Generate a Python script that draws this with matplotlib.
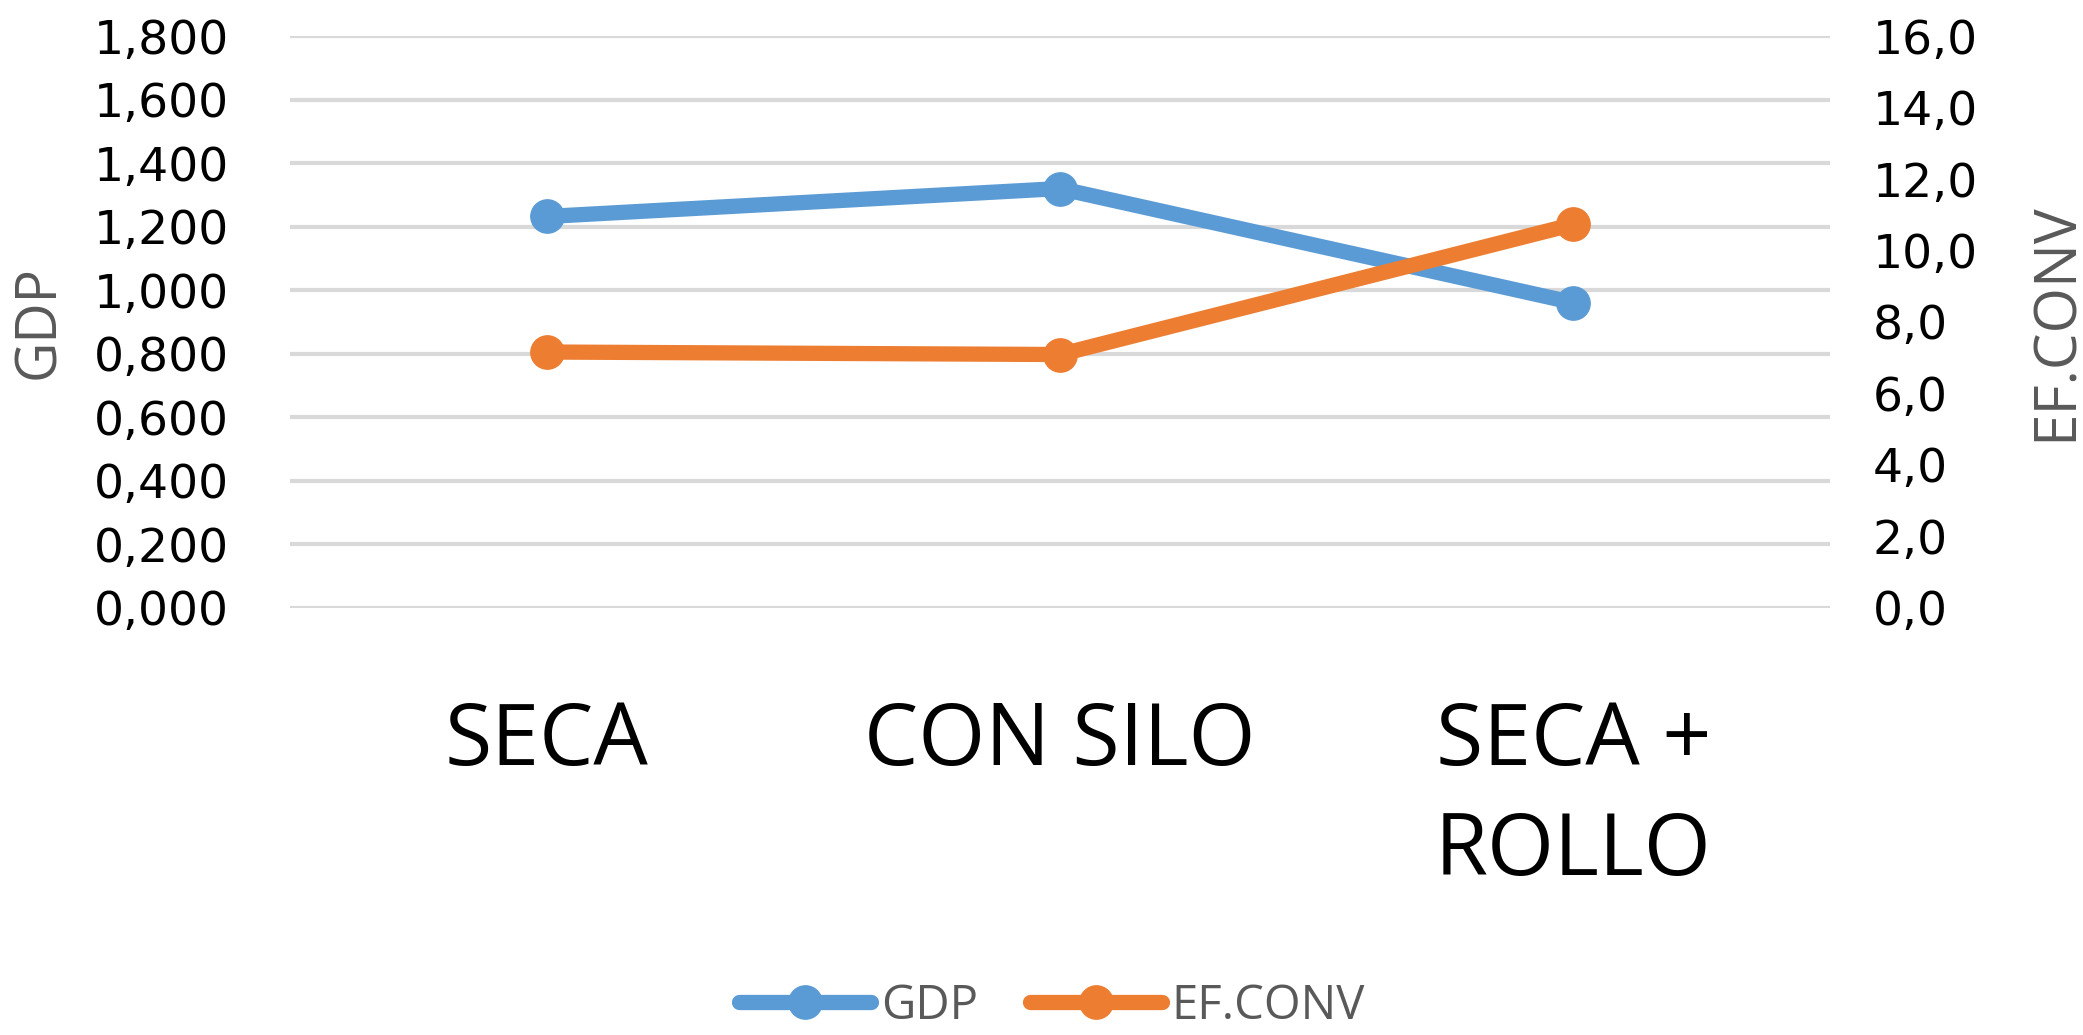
"""Line chart, two y axes: GDP (left) and EF.CONV (right) per feeding treatment."""
import matplotlib
matplotlib.use("Agg")
import matplotlib.pyplot as plt
from matplotlib.ticker import FuncFormatter, MultipleLocator

categories = ["SECA", "CON SILO", "SECA +\nROLLO"]
gdp = [1.232, 1.320, 0.961]
ef_conv = [7.16, 7.09, 10.73]

blue, orange, grid, grey = "#5B9BD5", "#ED7D31", "#D9D9D9", "#595959"
FONT = "Open Sans"

fig = plt.figure(figsize=(20.83, 10.35), dpi=100)
ax = fig.add_axes([0.1392, 0.4126, 0.8785 - 0.1392, 0.9652 - 0.4126])
ax2 = ax.twinx()

x = list(range(len(categories)))
l1, = ax.plot(x, gdp, color=blue, lw=11, marker="o", ms=24, solid_capstyle="round")
l2, = ax2.plot(x, ef_conv, color=orange, lw=11, marker="o", ms=24, solid_capstyle="round")

ax.set_xlim(-0.5, 2.5)
ax.set_ylim(0, 1.8)
ax2.set_ylim(0, 16)
ax.yaxis.set_major_locator(MultipleLocator(0.2))
ax2.yaxis.set_major_locator(MultipleLocator(2))
ax.yaxis.set_major_formatter(FuncFormatter(lambda v, p: f"{v:.3f}".replace(".", ",")))
ax2.yaxis.set_major_formatter(FuncFormatter(lambda v, p: f"{v:.1f}".replace(".", ",")))

ax.grid(axis="y", color=grid, lw=3)
ax.set_axisbelow(True)
for a in (ax, ax2):
    for s in a.spines.values():
        s.set_visible(False)

ax.set_xticks(x)
ax.set_xticklabels(categories, fontsize=62, family=FONT, color="black")
for t in ax.get_xticklabels():
    t.set_linespacing(1.35)
ax.tick_params(axis="x", length=0, pad=66)
ax.tick_params(axis="y", length=0, pad=44, labelsize=34, labelcolor="black")
ax2.tick_params(axis="y", length=0, pad=31, labelsize=34, labelcolor="black")
for t in ax.get_yticklabels() + ax2.get_yticklabels():
    t.set_family("DejaVu Sans")

fig.text(40 / 2083, 1 - 322 / 1035, "GDP", rotation=90, ha="center", va="center",
         fontsize=40, color=grey, family=FONT)
fig.text(2056 / 2083, 1 - 322 / 1035, "EF.CONV", rotation=90, ha="center", va="center",
         fontsize=42, color=grey, family=FONT)

fig.legend([l1, l2], ["GDP", "EF.CONV"], loc="center", bbox_to_anchor=(0.505, 1 - 1006 / 1035),
           ncol=2, frameon=False, prop={"family": FONT, "size": 34}, labelcolor=grey,
           handlelength=2.8, handletextpad=0.2, columnspacing=1.1, markerscale=1.0,
           borderpad=0.1)

fig.savefig("out.png", dpi=100)
